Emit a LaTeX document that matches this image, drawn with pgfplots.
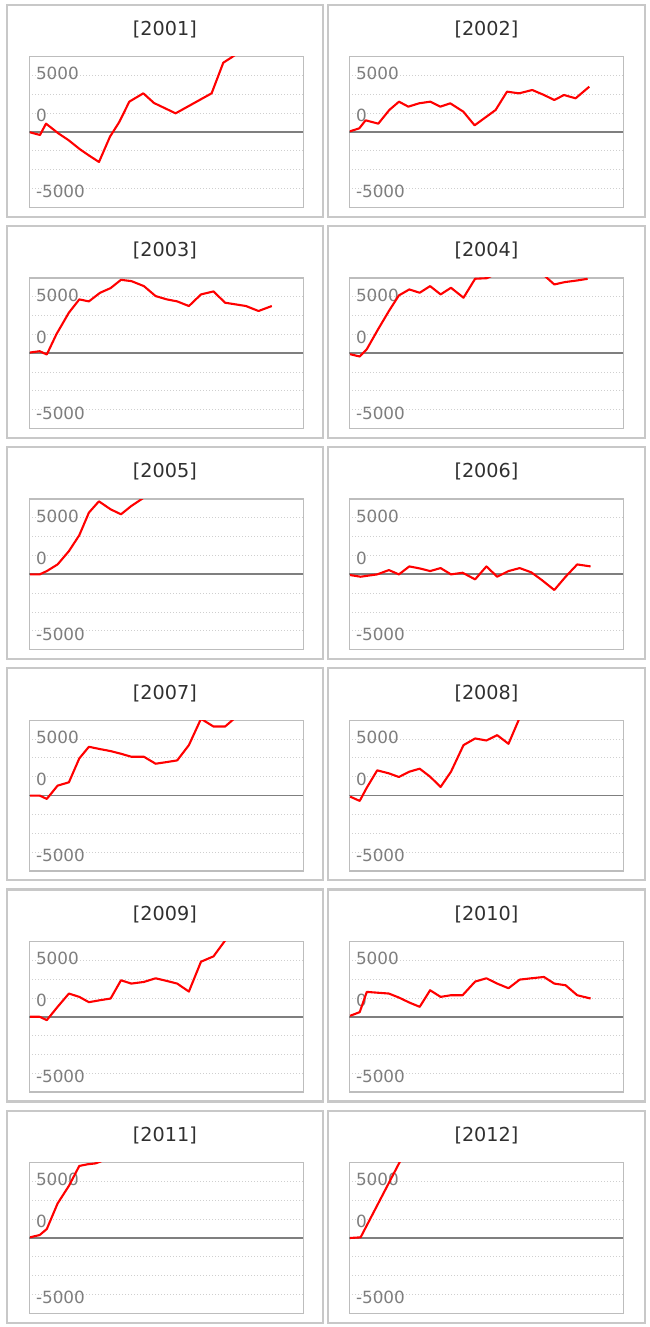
\documentclass[border=0pt]{standalone}
\usepackage{fontspec}
\setmainfont{DejaVu Sans}
\usepackage{pgfplots}
\pgfplotsset{compat=1.18}
\definecolor{boxc}{HTML}{C8C8C8}
\definecolor{framec}{HTML}{BDBDBD}
\definecolor{gridc}{HTML}{CFCFCF}
\definecolor{zeroc}{HTML}{7F7F7F}
\definecolor{tickc}{HTML}{7E7E7E}
\definecolor{titlec}{HTML}{303030}
\pgfplotsset{panel/.style={
  scale only axis, width=274pt, height=150.6pt,
  xmin=0, xmax=274, ymin=-6666.67, ymax=6666.67,
  xtick=\empty,
  ytick={-5000,-3333.33,-1666.67,1666.67,3333.33,5000},
  yticklabels={},
  major tick length=0pt,
  ymajorgrids,
  major grid style={color=gridc, line width=0.9pt, dash pattern=on 1pt off 2pt},
  extra y ticks={0}, extra y tick labels={},
  extra y tick style={ymajorgrids=true, major grid style={color=zeroc, line width=1.8pt, solid}},
  axis line style={framec, line width=1.4pt},
  clip=true,
  anchor=south west,
}}
\tikzset{lab/.style={anchor=west, inner sep=0pt, text=tickc, font=\fontsize{16.8}{16.8}\selectfont}}
% #1 box left, #2 plot left, #3 row, #4 year, #5 coordinates
\newcommand\panel[5]{%
  \draw[boxc, line width=2.2pt] ({#1pt},{1110.3pt-221.2pt*#3}) rectangle ++(316.3pt,212pt);
  \node[anchor=base, inner sep=0pt, text=titlec, font=\fontsize{19.2}{19.2}\selectfont] at ({#1pt+158.15pt},{1291.5pt-221.2pt*#3}) {[#4]};
  \begin{axis}[panel, at={({#2pt},{1119.7pt-221.2pt*#3})}]
    \node[lab] at (axis cs:6.5,5160) {5000};
    \node[lab] at (axis cs:6.5,1434) {0};
    \node[lab] at (axis cs:6.5,-5292) {-5000};
    \addplot[red, line width=2.1pt, no marks, line join=round] coordinates {#5};
  \end{axis}
}
\begin{document}
\begin{tikzpicture}
\path[use as bounding box] (0,0) rectangle (650pt,1327pt);
\fill[white] (0,0) rectangle (650pt,1327pt);
\panel{6.7}{29.3}{0}{2001}{(0.7,-30) (10.7,-266) (16.7,738) (29,-118) (39,-708) (50.7,-1534) (60,-2100) (69.7,-2655) (80.7,-413) (90,885) (100,2685) (114,3422) (124.7,2567) (146.3,1652) (182.3,3422) (194,6136) (202.3,6608) (212,7200) (226,7900)}
\panel{328.3}{349.3}{0}{2002}{(0.7,59) (10,325) (16.3,1033) (29,738) (40,1947) (49.7,2685) (59,2242) (69.7,2537) (81,2685) (91,2242) (101,2537) (114,1800) (125.3,590) (146.3,1947) (157.7,3570) (169.7,3422) (183,3717) (194.7,3275) (205,2832) (214.7,3275) (226.3,2980) (240,4012)}
\panel{6.7}{29.3}{1}{2003}{(0.8,59) (10.4,176) (17.5,-118) (27.1,1676) (39.6,3587) (50,4763) (59.6,4586) (70.8,5351) (81.3,5762) (91.7,6497) (102.1,6380) (114.6,5939) (126.3,5057) (137.5,4763) (147.9,4586) (159.6,4175) (171.7,5204) (184.2,5468) (195.8,4468) (206.3,4322) (216.7,4175) (229.2,3734) (242.5,4175)}
\panel{328.3}{349.3}{1}{2004}{(0.8,-88) (10.4,-294) (17.5,353) (28.8,2117) (39.6,3734) (49.6,5116) (60,5645) (70.4,5351) (80.8,5939) (91.3,5204) (101.7,5792) (114.2,4910) (125.8,6590) (137.5,6640) (148,7100) (160,7500) (172,7700) (184,7400) (196,6800) (205,6086) (215.4,6292) (227.9,6439) (238.3,6586)}
\panel{6.7}{29.3}{2}{2005}{(0.8,0) (10.4,0) (17.5,294) (28.3,882) (39.6,2058) (50,3469) (59.6,5468) (69.6,6468) (81.3,5762) (91.7,5321) (102,6056) (114.6,6800) (126,7500) (137.5,8100) (148,8400)}
\panel{328.3}{349.3}{2}{2006}{(0.8,-59) (11.3,-206) (27.9,0) (39.6,382) (49.6,0) (60,706) (70.4,529) (80.8,294) (91.3,559) (101.7,0) (113.3,147) (125.8,-441) (137.1,706) (147.9,-206) (159.2,294) (170.4,559) (182.1,176) (192.5,-500) (205,-1382) (216.3,-206) (227.9,882) (241.3,706)}
\panel{6.7}{29.3}{3}{2007}{(0.8,0) (10.4,0) (17.5,-294) (28.3,882) (39.6,1176) (50,3293) (59.6,4322) (70.8,4116) (81.3,3940) (91.7,3704) (102,3440) (114.6,3440) (126.3,2822) (137.5,2969) (147.9,3116) (159.6,4469) (171.7,6800) (184.2,6115) (195.8,6115) (206,6900) (217,7600) (229,8000)}
\panel{328.3}{349.3}{3}{2008}{(0.8,-88) (10.4,-470) (17.5,706) (27.9,2234) (39.6,1970) (49.6,1646) (60,2117) (70.4,2381) (80.8,1676) (91.3,764) (101.7,2117) (114.2,4469) (125.8,5057) (137.1,4880) (147.9,5351) (159.2,4586) (170.4,6900) (182,7800) (194,8300)}
\panel{6.7}{29.3}{4}{2009}{(0.8,0) (10.4,0) (17.5,-294) (28.3,882) (39.6,2058) (50,1764) (59.6,1294) (70.8,1470) (81.3,1617) (91.7,3234) (102,2940) (114.6,3087) (126.3,3410) (137.5,3175) (147.9,2940) (159.6,2234) (171.7,4880) (184.2,5351) (195.8,6750) (206,7600)}
\panel{328.3}{349.3}{4}{2010}{(0.8,88) (10.4,412) (17.5,2205) (39.6,2058) (49.6,1705) (60,1264) (70.4,882) (80.8,2352) (91.3,1764) (101.7,1911) (113.3,1911) (125.8,3116) (137.1,3410) (147.9,2940) (159.2,2528) (170.4,3293) (182.1,3410) (194.6,3528) (205,2940) (216.3,2793) (227.9,1911) (241.3,1617)}
\panel{6.7}{29.3}{5}{2011}{(0.8,59) (10.4,265) (17.5,794) (28.3,3058) (39.6,4616) (50,6380) (58.3,6527) (65.8,6600) (70.8,6750) (81.3,7200)}
\panel{328.3}{349.3}{5}{2012}{(0.8,0) (11.3,59) (49.6,6586) (60,8300)}
\end{tikzpicture}
\end{document}
